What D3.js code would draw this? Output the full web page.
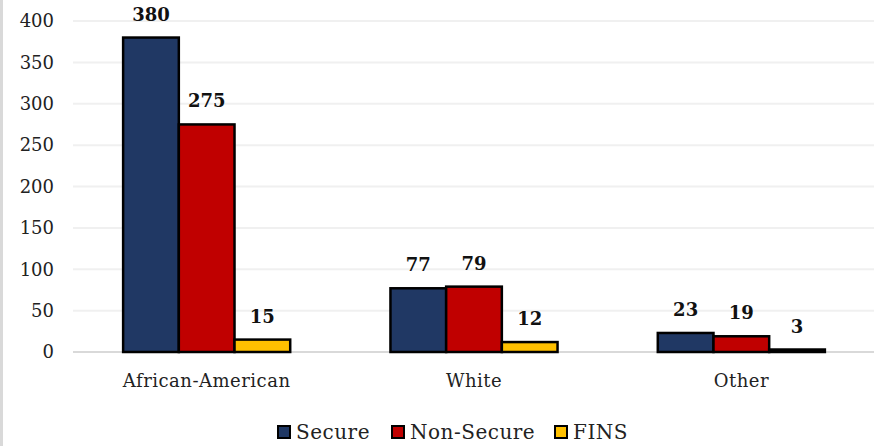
<!DOCTYPE html>
<html>
<head>
<meta charset="utf-8">
<script src="https://cdn.jsdelivr.net/npm/d3@7"></script>
<style>
  html, body { margin: 0; padding: 0; background: #fff; }
  svg { display: block; }
</style>
</head>
<body>
<svg id="chart" width="879" height="446"></svg>
<script>
// Counts by group and status
const categories = ["African-American", "White", "Other"];
const seriesNames = ["Secure", "Non-Secure", "FINS"];
const secure = [380, 77, 23];
const nonSecure = [275, 79, 19];
const fins = [15, 12, 3];
const yTicks = [0, 50, 100, 150, 200, 250, 300, 350, 400];

const seriesValues = [secure, nonSecure, fins];
const colors = ["#203864", "#c00000", "#ffc000"];

const svg = d3.select("#chart");
const W = 879, H = 446;
const margin = { left: 72, right: 5, top: 21, bottom: 94 };
const fontFamily = "'DejaVu Serif', serif";

// Chart frame on the left edge
svg.append("rect").attr("x", 0).attr("y", 0).attr("width", 3).attr("height", H).attr("fill", "#d9d9d9");

const x0 = d3.scaleBand()
  .domain(categories)
  .range([margin.left + 1, W - margin.right + 1])
  .paddingInner(0.375)
  .paddingOuter(0.1875);

const x1 = d3.scaleBand()
  .domain(seriesNames)
  .range([0, x0.bandwidth()]);

const y = d3.scaleLinear()
  .domain([0, 400])
  .range([H - margin.bottom, margin.top]);

// Gridlines
svg.append("g")
  .selectAll("line")
  .data(yTicks)
  .join("line")
  .attr("x1", margin.left + 1)
  .attr("x2", W - margin.right)
  .attr("y1", d => y(d))
  .attr("y2", d => y(d))
  .attr("stroke", d => d === 0 ? "#d9d9d9" : "#f0f0f0")
  .attr("stroke-width", 2);

// Y axis labels
const yAxis = d3.axisLeft(y).tickValues(yTicks).tickSize(0).tickPadding(0);
const gy = svg.append("g")
  .attr("transform", `translate(${54},0)`)
  .call(yAxis);
gy.select(".domain").remove();
gy.selectAll("text")
  .attr("font-family", fontFamily)
  .attr("font-size", 18)
  .attr("fill", "#222");

// X axis labels
const xAxis = d3.axisBottom(x0).tickSize(0).tickPadding(0);
const gx = svg.append("g")
  .attr("transform", `translate(0,${y(0) + 22})`)
  .call(xAxis);
gx.select(".domain").remove();
gx.selectAll("text")
  .attr("font-family", fontFamily)
  .attr("font-size", 18)
  .attr("letter-spacing", 0.5)
  .attr("fill", "#222");

// Bars
const groups = svg.append("g")
  .selectAll("g")
  .data(categories)
  .join("g")
  .attr("transform", d => `translate(${x0(d)},0)`);

groups.selectAll("rect")
  .data((c, i) => seriesNames.map((s, j) => ({ s, v: seriesValues[j][i], j })))
  .join("rect")
  .attr("x", d => x1(d.s))
  .attr("y", d => y(d.v))
  .attr("width", x1.bandwidth())
  .attr("height", d => y(0) - y(d.v))
  .attr("fill", d => colors[d.j])
  .attr("stroke", "#000")
  .attr("stroke-width", 2.5);

// Value labels
groups.selectAll("text")
  .data((c, i) => seriesNames.map((s, j) => ({ s, v: seriesValues[j][i], j })))
  .join("text")
  .attr("x", d => x1(d.s) + x1.bandwidth() / 2)
  .attr("y", d => y(d.v) - 17)
  .attr("text-anchor", "middle")
  .attr("font-family", fontFamily)
  .attr("font-weight", "bold")
  .attr("font-size", 18)
  .attr("fill", "#111")
  .text(d => d.v);

// Legend
const legendItems = [
  { name: "Secure", x: 278 },
  { name: "Non-Secure", x: 392 },
  { name: "FINS", x: 555 }
];
const legend = svg.append("g")
  .selectAll("g")
  .data(legendItems)
  .join("g")
  .attr("transform", d => `translate(${d.x},${426})`);
legend.append("rect")
  .attr("width", 12).attr("height", 12)
  .attr("fill", (d, i) => colors[i])
  .attr("stroke", "#000")
  .attr("stroke-width", 2);
legend.append("text")
  .attr("x", 18)
  .attr("y", 13)
  .attr("font-family", fontFamily)
  .attr("font-size", 20)
  .attr("letter-spacing", 0.5)
  .attr("fill", "#222")
  .text(d => d.name);
</script>
</body>
</html>
